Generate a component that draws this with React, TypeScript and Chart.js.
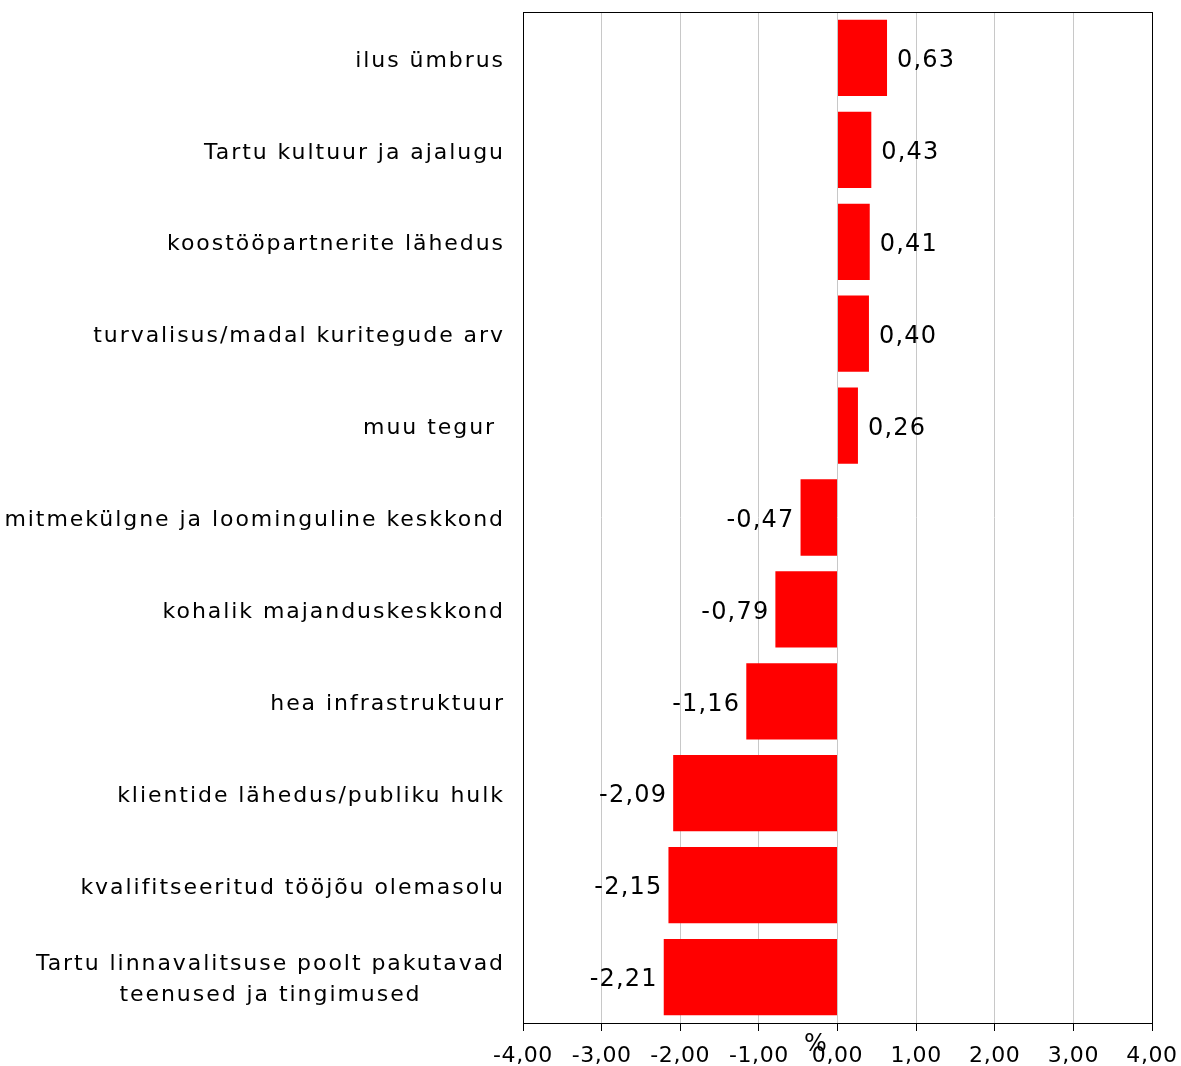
import React, { useEffect, useRef } from "react";
import { Chart, registerables } from "chart.js";

Chart.register(...registerables);

const categories: (string | string[])[] = [
  "ilus ümbrus",
  "Tartu kultuur ja ajalugu",
  "koostööpartnerite lähedus",
  "turvalisus/madal kuritegude arv",
  "muu tegur ",
  "mitmekülgne ja loominguline keskkond",
  "kohalik majanduskeskkond",
  "hea infrastruktuur",
  "klientide lähedus/publiku hulk",
  "kvalifitseeritud tööjõu olemasolu",
  ["Tartu linnavalitsuse poolt pakutavad", "teenused ja tingimused"],
];

const values: number[] = [0.63, 0.43, 0.41, 0.4, 0.26, -0.47, -0.79, -1.16, -2.09, -2.15, -2.21];

const xMin = -4;
const xMax = 4;
const xStep = 1;
const axisTitle = "%";

const fmt = (v: number) => v.toFixed(2).replace(".", ",");

const LABEL_FONT = "22px 'DejaVu Sans', Verdana, sans-serif";
const VALUE_FONT = "24px 'DejaVu Sans', Verdana, sans-serif";
const TICK_FONT = "22px 'DejaVu Sans', Verdana, sans-serif";

const customPlugin = {
  id: "customDraw",
  afterDraw(chart: any) {
    const { ctx, chartArea: a, scales } = chart;
    const x = scales.x;
    const y = scales.y;
    ctx.save();
    // frame
    ctx.strokeStyle = "#000";
    ctx.lineWidth = 1;
    ctx.strokeRect(Math.round(a.left) + 0.5, Math.round(a.top) + 0.5, Math.round(a.right - a.left), Math.round(a.bottom - a.top));

    // category labels
    ctx.fillStyle = "#000";
    ctx.font = LABEL_FONT;
    (ctx as any).letterSpacing = "1.95px";
    ctx.textBaseline = "middle";
    const labelRight = a.left - 18;
    categories.forEach((lab, i) => {
      const cy = y.getPixelForValue(i) + 3;
      if (Array.isArray(lab)) {
        const widths = lab.map((l) => ctx.measureText(l).width);
        const maxW = Math.max(...widths);
        const lh = 31;
        const start = cy - ((lab.length - 1) * lh) / 2;
        ctx.textAlign = "center";
        lab.forEach((l, j) => {
          ctx.fillText(l, labelRight - maxW / 2, start + j * lh);
        });
      } else {
        ctx.textAlign = "right";
        ctx.fillText(lab, labelRight, cy);
      }
    });

    // value labels
    ctx.font = VALUE_FONT;
    (ctx as any).letterSpacing = "1.2px";
    values.forEach((v, i) => {
      const cy = y.getPixelForValue(i) + 3;
      const px = x.getPixelForValue(v);
      if (v >= 0) {
        ctx.textAlign = "left";
        ctx.fillText(fmt(v), px + 10, cy);
      } else {
        ctx.textAlign = "right";
        ctx.fillText(fmt(v), px - 6, cy);
      }
    });

    // x tick labels
    (ctx as any).letterSpacing = "0.6px";
    ctx.font = TICK_FONT;
    ctx.textAlign = "center";
    ctx.textBaseline = "alphabetic";
    x.ticks.forEach((t: any) => {
      const px = x.getPixelForValue(t.value);
      ctx.fillText(fmt(t.value), px, a.bottom + 39);
    });

    // axis title
    (ctx as any).letterSpacing = "0px";
    ctx.font = VALUE_FONT;
    ctx.fillText(axisTitle, (a.left + a.right) / 2 - 22, a.bottom + 28);
    ctx.restore();
  },
};

export default function App() {
  const ref = useRef<HTMLCanvasElement | null>(null);
  useEffect(() => {
    if (!ref.current) return;
    const chart = new Chart(ref.current, {
      type: "bar",
      data: {
        labels: categories as any,
        datasets: [
          {
            data: values,
            backgroundColor: "#ff0000",
            borderWidth: 0,
            barPercentage: 0.83,
            categoryPercentage: 1,
          },
        ],
      },
      options: {
        indexAxis: "y",
        responsive: false,
        animation: false,
        layout: { padding: { left: 523, right: 29, top: 12, bottom: 35 } },
        plugins: { legend: { display: false }, tooltip: { enabled: false } },
        scales: {
          x: {
            min: xMin,
            max: xMax,
            ticks: { stepSize: xStep, display: false },
            grid: { color: "#c8c8c8", tickColor: "#000", tickLength: 8, lineWidth: 1 },
            border: { color: "#000", width: 1 },
          },
          y: {
            ticks: { display: false },
            grid: { display: false, drawTicks: false },
            border: { color: "#000", width: 1 },
          },
        },
      },
      plugins: [customPlugin],
    });
    return () => chart.destroy();
  }, []);
  return (
    <div style={{ position: "absolute", left: 0, top: 0, width: 1181, height: 1066, background: "#fff" }}>
      <canvas ref={ref} width={1181} height={1066} style={{ display: "block" }} />
    </div>
  );
}
